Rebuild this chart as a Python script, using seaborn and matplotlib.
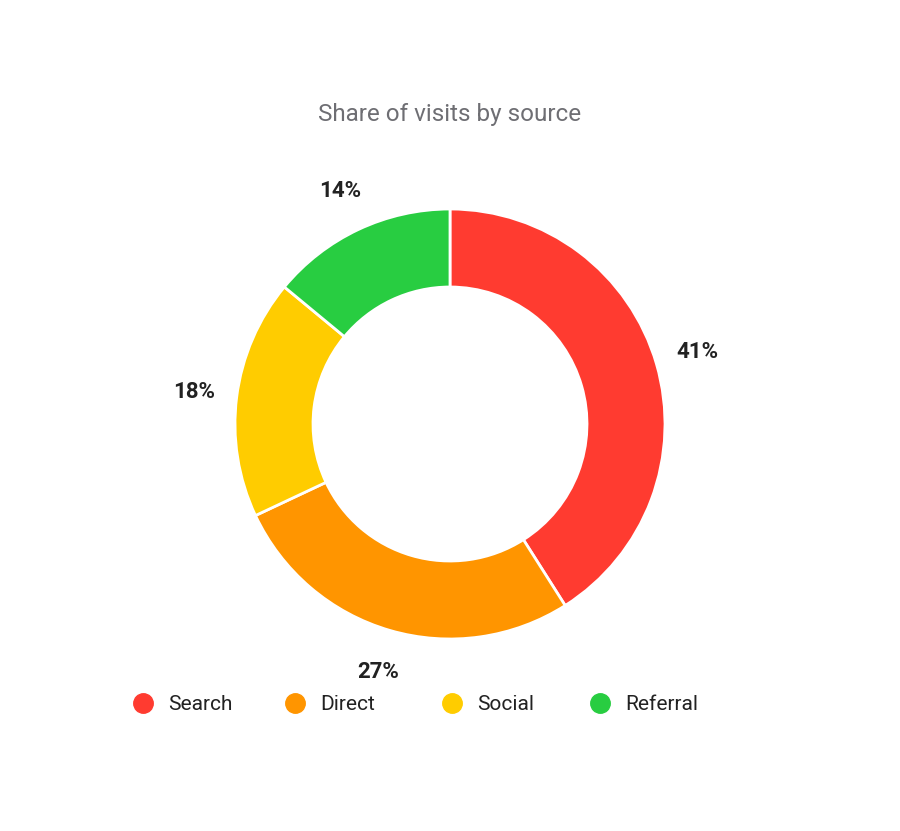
import matplotlib
matplotlib.use("Agg")
import matplotlib.pyplot as plt
from matplotlib.lines import Line2D
import seaborn as sns

categories = ["Search", "Direct", "Social", "Referral"]
shares = [41, 27, 18, 14]
colors = ["#FF3B30", "#FF9500", "#FFCC00", "#28CD41"]
title = "Share of visits by source"

sns.set_theme(style="white")
plt.rcParams["font.family"] = ["Roboto", "DejaVu Sans"]

palette = sns.color_palette(colors)

W, H = 900, 831
fig = plt.figure(figsize=(W / 100, H / 100), dpi=100)
cx, cy, R = 450, 424, 215
ax = fig.add_axes([(cx - R) / W, (H - cy - R) / H, 2 * R / W, 2 * R / H])

wedges, texts = ax.pie(
    shares,
    colors=palette,
    startangle=90,
    counterclock=False,
    radius=1.0,
    labels=[f"{v}%" for v in shares],
    labeldistance=1.2,
    wedgeprops=dict(width=1 - 137 / 215, edgecolor="white", linewidth=2),
    textprops=dict(fontsize=16, fontweight="bold", color="#222222"),
)
for t in texts:
    t.set_horizontalalignment("center")
    t.set_verticalalignment("center")
ax.set_xlim(-1, 1)
ax.set_ylim(-1, 1)
ax.set_aspect("equal")
ax.axis("off")

fig.text(0.5, (H - 115) / H, title, ha="center", va="center",
         fontsize=17.5, color="#6E6E73")

# manual legend row
legend_x = [143, 295, 452, 600]
legend_y = (H - 703) / H
for x, name, c in zip(legend_x, categories, palette):
    fig.add_artist(Line2D([x / W], [legend_y], transform=fig.transFigure,
                          marker="o", linestyle="none", markersize=14,
                          markerfacecolor=c, markeredgecolor=c))
    fig.text((x + 25) / W, legend_y, name, ha="left", va="center_baseline",
             fontsize=15, color="#222222")

fig.savefig("out.png", dpi=100, facecolor="white")
